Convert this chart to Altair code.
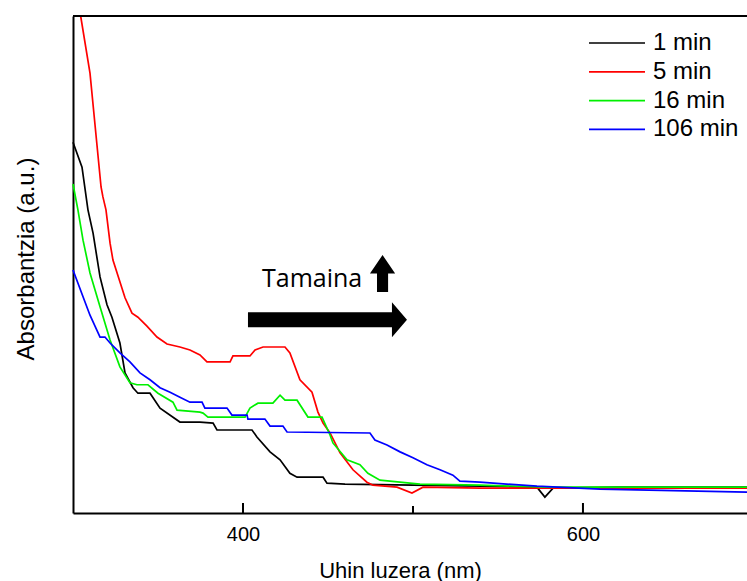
import altair as alt
import pandas as pd

# ---- data (wavelength nm, absorbance a.u.) ----
series_names = ["1 min", "5 min", "16 min", "106 min"]
series_colors = ["#000000", "#FF0000", "#00F000", "#0000FF"]

wl_1 = [300, 305.3, 308.8, 311.8, 315.9, 320, 322.9, 327.6, 330.6, 335.3, 338.2, 345.3, 351.2, 362.9,
        374.7, 382.4, 384.7, 405.3, 408.2, 415.9, 421.8, 427.6, 431.8, 447.1, 449.4, 460, 500, 540,
        572.9, 577.6, 582.4, 620, 696.5]
ab_1 = [0.746, 0.696, 0.610, 0.563, 0.475, 0.419, 0.394, 0.342, 0.282, 0.252, 0.241, 0.241, 0.211, 0.183,
        0.183, 0.181, 0.167, 0.167, 0.153, 0.123, 0.107, 0.080, 0.072, 0.072, 0.060, 0.058, 0.056, 0.054,
        0.052, 0.032, 0.050, 0.052, 0.052]

wl_5 = [304.5, 310, 314, 316.5, 317.6, 319.4, 321.8, 323.5, 330.6, 334.7, 338.2, 343.5, 349.4, 355.3,
        362.9, 368.8, 374.7, 378.8, 392.4, 394.1, 404.1, 407.1, 411.8, 424.7, 427.6, 433.5, 440.6, 444.1,
        447.1, 451.2, 457.1, 464.7, 472.9, 476.5, 490.6, 499.4, 505.9, 539.4, 696.5]
ab_5 = [1.0, 0.885, 0.744, 0.656, 0.636, 0.610, 0.543, 0.509, 0.433, 0.402, 0.394, 0.376, 0.354, 0.340,
        0.334, 0.328, 0.318, 0.304, 0.304, 0.316, 0.316, 0.328, 0.334, 0.334, 0.322, 0.268, 0.243, 0.203,
        0.181, 0.161, 0.121, 0.087, 0.062, 0.056, 0.052, 0.040, 0.052, 0.050, 0.050]

wl_16 = [300, 302.9, 305.9, 310, 315.9, 321.8, 327.6, 333.5, 337.6, 344.1, 350, 358.8, 361.2, 374.7,
         376.5, 379.4, 401.2, 404.1, 408.8, 417.6, 421.8, 424.7, 431.8, 438.2, 446.5, 451.2, 452.9,
         461.2, 468.8, 473.5, 480.6, 504.1, 539.4, 580, 696.5]
ab_16 = [0.662, 0.610, 0.549, 0.483, 0.415, 0.348, 0.294, 0.262, 0.258, 0.258, 0.241, 0.223, 0.207, 0.203,
         0.201, 0.193, 0.193, 0.211, 0.221, 0.221, 0.237, 0.227, 0.227, 0.193, 0.193, 0.157, 0.141,
         0.107, 0.097, 0.080, 0.066, 0.058, 0.056, 0.052, 0.052]

wl_106 = [300, 305.9, 310, 315.9, 318.8, 321.8, 327.6, 333.5, 339.4, 345.3, 351.2, 357.1, 362.9, 368.8,
          375.9, 377.6, 390.6, 393.5, 402.4, 402.9, 412.9, 415.9, 423.5, 425.9, 474.7, 477.6, 484.7,
          492.4, 500, 508.2, 515.9, 523.5, 527.6, 539.4, 572.9, 610, 696.5]
ab_106 = [0.489, 0.435, 0.398, 0.354, 0.354, 0.342, 0.322, 0.304, 0.282, 0.268, 0.252, 0.243, 0.233, 0.223,
          0.223, 0.211, 0.211, 0.197, 0.197, 0.189, 0.189, 0.175, 0.175, 0.163, 0.161, 0.147, 0.137,
          0.123, 0.111, 0.097, 0.087, 0.076, 0.064, 0.062, 0.054, 0.048, 0.042]

major_ticks = [400, 600]
minor_ticks = [500]

annot_label = ["Tamaina"]
annot_wl = [411.2]
annot_ab = [0.455]

# ---- build table ----
rows = []
for name, xs, ys in [("1 min", wl_1, ab_1), ("5 min", wl_5, ab_5),
                     ("16 min", wl_16, ab_16), ("106 min", wl_106, ab_106)]:
    for i, (x, y) in enumerate(zip(xs, ys)):
        rows.append({"series": name, "wl": x, "ab": y, "idx": i})
df = pd.DataFrame(rows)

FONT = "Liberation Sans"
H = 497
xscale = alt.Scale(domain=[300, 696.5], nice=False, zero=False)
yscale = alt.Scale(domain=[0, 1], nice=False, zero=False)

lines = alt.Chart(df).mark_line(strokeWidth=1.7).encode(
    x=alt.X("wl:Q", scale=xscale,
            axis=alt.Axis(values=major_ticks, title="Uhin luzera (nm)", ticks=False, tickSize=0,
                          grid=False, labelFont=FONT, labelFontSize=20, labelColor="black",
                          labelPadding=11, domainColor="black", domainWidth=2,
                          titleFont=FONT, titleFontSize=22, titleFontWeight="normal",
                          titleColor="black", titleX=327, titleY=47, titleBaseline="top")),
    y=alt.Y("ab:Q", scale=yscale,
            axis=alt.Axis(title="Absorbantzia (a.u.)", labels=False, ticks=False, grid=False,
                          domainColor="black", domainWidth=2, titleFont=FONT, titleFontSize=24,
                          titleFontWeight="normal", titleColor="black", titleX=-40, titleY=242.5,
                          titleBaseline="alphabetic", titleAngle=270, titleAlign="center")),
    color=alt.Color("series:N",
                    scale=alt.Scale(domain=series_names, range=series_colors),
                    legend=alt.Legend(title=None, orient="none", legendX=529, legendY=12,
                                      symbolType="M-2,0L2,0", symbolSize=784,
                                      symbolStrokeWidth=1.7, labelFont=FONT, labelFontSize=24,
                                      labelColor="black", labelOffset=21, rowPadding=1.8, padding=0)),
    order=alt.Order("idx:Q"),
)

top_rule = alt.Chart(pd.DataFrame({"ab": [1.0]})).mark_rule(color="black", strokeWidth=2).encode(
    y=alt.Y("ab:Q", scale=yscale)
)

# inward axis ticks drawn as tick marks sitting on the bottom axis (pointing up)
maj = alt.Chart(pd.DataFrame({"wl": major_ticks})).mark_tick(
    color="black", thickness=2, size=10, orient="vertical", opacity=1, yOffset=-5).encode(
    x=alt.X("wl:Q", scale=xscale), y=alt.value(H)
)
mino = alt.Chart(pd.DataFrame({"wl": minor_ticks})).mark_tick(
    color="black", thickness=2, size=7, orient="vertical", opacity=1, yOffset=-3.5).encode(
    x=alt.X("wl:Q", scale=xscale), y=alt.value(H)
)

annot = alt.Chart(pd.DataFrame({"wl": annot_wl, "ab": annot_ab, "label": annot_label})).mark_text(
    align="left", baseline="alphabetic", font="Open Sans", fontSize=25, color="black"
).encode(x=alt.X("wl:Q", scale=xscale), y=alt.Y("ab:Q", scale=yscale), text="label:N")

right_arrow = alt.Chart(pd.DataFrame({"wl": [449.7], "ab": [0.389]})).mark_point(
    shape="M-1,-0.094L0.811,-0.094L0.811,-0.22L1,0L0.811,0.22L0.811,0.094L-1,0.094Z",
    size=25281, filled=True, color="black", opacity=1, strokeWidth=0
).encode(x=alt.X("wl:Q", scale=xscale), y=alt.Y("ab:Q", scale=yscale))

up_arrow = alt.Chart(pd.DataFrame({"wl": [482.1], "ab": [0.482]})).mark_point(
    shape="M0,-1L0.68,0L0.3,0L0.3,1L-0.3,1L-0.3,0L-0.68,0Z",
    size=1369, filled=True, color="black", opacity=1, strokeWidth=0
).encode(x=alt.X("wl:Q", scale=xscale), y=alt.Y("ab:Q", scale=yscale))

chart = alt.layer(lines, top_rule, maj, mino, annot, right_arrow, up_arrow).properties(
    width=674, height=H,
    padding={"left": 73, "top": 16, "right": 0, "bottom": 68},
    autosize=alt.AutoSizeParams(type="none"),
    background="white",
).configure_view(stroke=None)

chart.save("out.html", embed_options={"renderer": "svg", "actions": False})
